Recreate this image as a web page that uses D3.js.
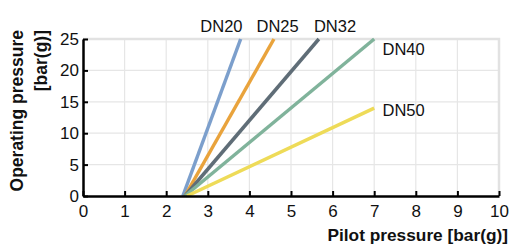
<!DOCTYPE html>
<html>
<head>
<meta charset="utf-8">
<script src="https://cdn.jsdelivr.net/npm/d3@7"></script>
<style>
  body { margin: 0; background: #fff; }
  text { font-family: "Liberation Sans", Arial, sans-serif; fill: #111; }
</style>
</head>
<body>
<svg id="chart" width="514" height="248"></svg>
<script>
// data
const series = ["DN20", "DN25", "DN32", "DN40", "DN50"];
const colors = ["#7c9fcc", "#e9a33c", "#5f6d77", "#80b39b", "#eedb58"];
const startX = [2.4, 2.45, 2.45, 2.45, 2.5];
const endX = [3.79, 4.59, 5.67, 7.0, 7.0];
const endY = [25, 25, 25, 25, 14];
const xTicks = [0, 1, 2, 3, 4, 5, 6, 7, 8, 9, 10];
const yTicks = [0, 5, 10, 15, 20, 25];

const svg = d3.select("#chart");
const margin = {left: 83, right: 15, top: 39, bottom: 52};
const width = +svg.attr("width");
const height = +svg.attr("height");

const x = d3.scaleLinear().domain([0, 10]).range([margin.left, width - margin.right]);
const y = d3.scaleLinear().domain([0, 25]).range([height - margin.bottom, margin.top]);

// grid
svg.append("g").selectAll("line").data(xTicks.slice(1, -1)).join("line")
    .attr("x1", d => x(d)).attr("x2", d => x(d))
    .attr("y1", y(0)).attr("y2", y(25))
    .attr("stroke", "#e6e6e6").attr("stroke-width", 1.2);
svg.append("g").selectAll("line").data(yTicks.slice(1, -1)).join("line")
    .attr("x1", x(0)).attr("x2", x(10))
    .attr("y1", d => y(d)).attr("y2", d => y(d))
    .attr("stroke", "#e6e6e6").attr("stroke-width", 1.2);

// top + right frame
svg.append("path")
    .attr("d", `M${x(0)},${y(25)}H${x(10)}V${y(0)}`)
    .attr("fill", "none").attr("stroke", "#e2e2e2").attr("stroke-width", 2.5);

// data lines
series.forEach((name, i) => {
    svg.append("line")
        .attr("x1", x(startX[i])).attr("y1", y(0))
        .attr("x2", x(endX[i])).attr("y2", y(endY[i]))
        .attr("stroke", colors[i]).attr("stroke-width", 3.5);
});

// axes
const xAxis = svg.append("g").attr("transform", `translate(0,${y(0)})`)
    .call(d3.axisBottom(x).tickValues(xTicks).tickSizeInner(-5).tickSizeOuter(0).tickPadding(9));
const yAxis = svg.append("g").attr("transform", `translate(${x(0)},0)`)
    .call(d3.axisLeft(y).tickValues(yTicks).tickSizeInner(-5).tickSizeOuter(0).tickPadding(4));
[xAxis, yAxis].forEach(g => {
    g.select(".domain").attr("stroke", "#000").attr("stroke-width", 2.5);
    g.selectAll(".tick line").attr("stroke", "#000").attr("stroke-width", 2);
    g.selectAll(".tick text").attr("font-size", 17).attr("fill", "#111")
        .style("font-family", "'Liberation Sans', Arial, sans-serif");
});
xAxis.selectAll(".tick text").attr("dy", "0.72em");

// series labels
const labelPos = [[x(2.82), 32], [x(4.17), 32], [x(5.55), 32], [x(7.2), 55], [x(7.2), 116]];
series.forEach((name, i) => {
    svg.append("text").attr("x", labelPos[i][0]).attr("y", labelPos[i][1])
        .attr("font-size", 16.5).text(name);
});

// axis titles
svg.append("text").attr("x", width - 6).attr("y", 241)
    .attr("text-anchor", "end").attr("font-size", 17.3).attr("font-weight", "bold")
    .text("Pilot pressure [bar(g)]");
svg.append("text").attr("transform", `translate(23,30) rotate(-90)`)
    .attr("text-anchor", "end").attr("font-size", 17.5).attr("font-weight", "bold")
    .text("Operating pressure");
svg.append("text").attr("transform", `translate(47,30) rotate(-90)`)
    .attr("text-anchor", "end").attr("font-size", 17.5).attr("font-weight", "bold")
    .text("[bar(g)]");
</script>
</body>
</html>
